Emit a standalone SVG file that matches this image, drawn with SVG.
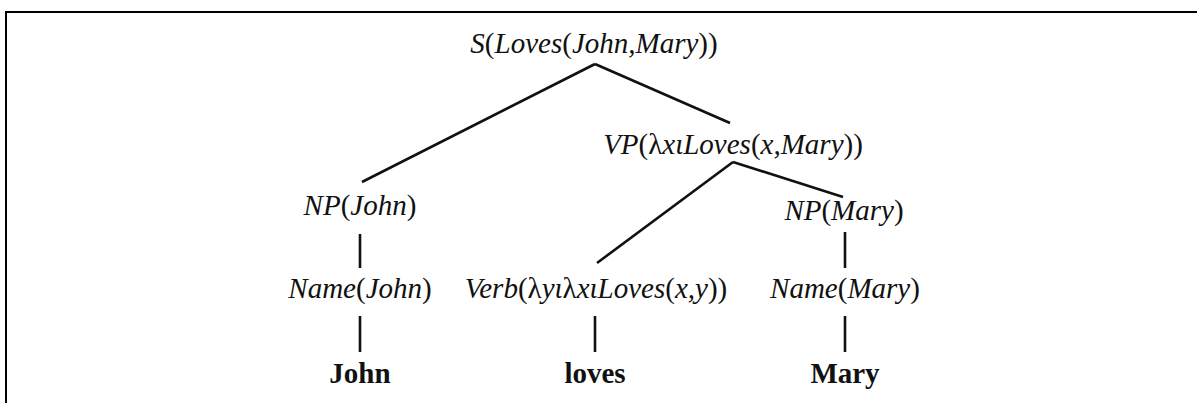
<svg xmlns="http://www.w3.org/2000/svg" width="1197" height="403" viewBox="0 0 1197 403">
<style>
.lbl{font-family:"Liberation Serif","Times New Roman",serif;font-size:29px;font-style:italic;fill:#111;text-anchor:middle}
.up{font-style:normal}
.word{font-family:"Liberation Serif","Times New Roman",serif;font-size:29px;font-weight:bold;fill:#111;text-anchor:middle}
.edge{stroke:#111;stroke-width:2.6;fill:none;stroke-linecap:butt}
.frame{stroke:#000;stroke-width:2;fill:none}
</style>
<path class="frame" d="M6,403 V12 H1197"/>
<g id="connectors">
<line class="edge" x1="595" y1="64" x2="362" y2="182"/>
<line class="edge" x1="595" y1="64" x2="730" y2="123"/>
<line class="edge" x1="733" y1="162" x2="597" y2="263"/>
<line class="edge" x1="733" y1="162" x2="843" y2="197"/>
<line class="edge" x1="360" y1="234" x2="360" y2="268"/>
<line class="edge" x1="845" y1="232" x2="845" y2="268"/>
<line class="edge" x1="360" y1="316" x2="360" y2="352"/>
<line class="edge" x1="595" y1="316" x2="595" y2="352"/>
<line class="edge" x1="845" y1="316" x2="845" y2="352"/>
</g>
<g id="s"><text class="lbl" x="594" y="53">S<tspan class="up">(</tspan>Loves<tspan class="up">(</tspan>John,Mary<tspan class="up">))</tspan></text></g>
<g id="vp"><text class="lbl" x="733" y="154">VP<tspan class="up">(λ</tspan>xιLoves<tspan class="up">(</tspan>x,Mary<tspan class="up">))</tspan></text></g>
<g id="np-john"><text class="lbl" x="360" y="215">NP<tspan class="up">(</tspan>John<tspan class="up">)</tspan></text></g>
<g id="np-mary"><text class="lbl" x="844" y="220">NP<tspan class="up">(</tspan>Mary<tspan class="up">)</tspan></text></g>
<g id="name-john"><text class="lbl" x="360" y="298">Name<tspan class="up">(</tspan>John<tspan class="up">)</tspan></text></g>
<g id="verb"><text class="lbl" x="596" y="298">Verb<tspan class="up">(λ</tspan>yι<tspan class="up">λ</tspan>xιLoves<tspan class="up">(</tspan>x,y<tspan class="up">))</tspan></text></g>
<g id="name-mary"><text class="lbl" x="845" y="298">Name<tspan class="up">(</tspan>Mary<tspan class="up">)</tspan></text></g>
<g id="w-john"><text class="word" x="360" y="383">John</text></g>
<g id="w-loves"><text class="word" x="595" y="383">loves</text></g>
<g id="w-mary"><text class="word" x="845" y="383">Mary</text></g>
</svg>
